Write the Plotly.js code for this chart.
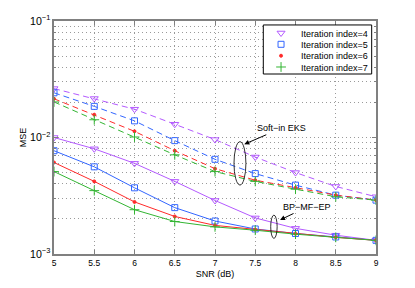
<!DOCTYPE html>
<html>
<head>
<meta charset="utf-8">
<script src="https://cdn.plot.ly/plotly-3.0.1.min.js"></script>
<style>html,body{margin:0;padding:0;background:#fff;}#chart{width:415px;height:288px;}</style>
</head>
<body>
<div id="chart"></div>
<script>
// SNR (dB)
var snr = [5, 5.5, 6, 6.5, 7, 7.5, 8, 8.5, 9];

// Soft-in EKS (dashed)
var eks4 = [0.0263, 0.0216, 0.0175, 0.0130, 0.0096, 0.0068, 0.0050, 0.0038, 0.0031];
var eks5 = [0.0242, 0.0185, 0.0139, 0.0094, 0.0065, 0.0049, 0.0039, 0.0032, 0.0029];
var eks6 = [0.0215, 0.0157, 0.0113, 0.0077, 0.0054, 0.0043, 0.0037, 0.0032, 0.0029];
var eks7 = [0.0202, 0.0142, 0.0101, 0.0071, 0.0051, 0.0042, 0.0036, 0.0031, 0.0029];

// BP-MF-EP (solid)
var bp4 = [0.0100, 0.0080, 0.0060, 0.0042, 0.00288, 0.00204, 0.00166, 0.00145, 0.00131];
var bp5 = [0.0077, 0.0056, 0.0037, 0.0025, 0.00192, 0.00164, 0.00150, 0.00140, 0.00131];
var bp6 = [0.0061, 0.0042, 0.0028, 0.0021, 0.00176, 0.00162, 0.00149, 0.00139, 0.00131];
var bp7 = [0.0051, 0.0035, 0.0024, 0.0019, 0.00171, 0.00160, 0.00148, 0.00139, 0.00131];

var names = ['Iteration index=4', 'Iteration index=5', 'Iteration index=6', 'Iteration index=7'];
var colors = ['#b45aff', '#3366ff', '#ff2a2a', '#33b533'];
var symbols = ['triangle-down-open', 'square-open', 'circle', 'cross-thin-open'];
var sizes = [7, 6, 3, 7];
var eksSeries = [eks4, eks5, eks6, eks7];
var bpSeries = [bp4, bp5, bp6, bp7];
var legendIds = ['legend', 'legend2', 'legend3', 'legend4'];
var legendRowY = [0.9485, 0.900, 0.851, 0.8026];

var traces = [];
for (var i = 0; i < 4; i++) {
  traces.push({x: snr, y: eksSeries[i], mode: 'lines', showlegend: false, hoverinfo: 'skip',
    line: {color: colors[i], width: 1, dash: '6px,4px'}});
  traces.push({x: snr, y: bpSeries[i], mode: 'lines', showlegend: false, hoverinfo: 'skip',
    line: {color: colors[i], width: 1}});
}
for (var j = 0; j < 4; j++) {
  traces.push({x: snr.concat([null], snr), y: eksSeries[j].concat([null], bpSeries[j]),
    mode: 'markers', name: names[j], showlegend: true, legend: legendIds[j],
    marker: {symbol: symbols[j], size: sizes[j], color: colors[j], line: {color: colors[j], width: 1}}});
}

var gridc = '#9a9a9a';
var axc = '#808080';
var layout = {
  width: 415, height: 288,
  margin: {l: 54, r: 39, t: 21, b: 34},
  paper_bgcolor: '#ffffff', plot_bgcolor: '#ffffff',
  font: {family: 'Liberation Sans, Arial, sans-serif', size: 9, color: '#000'},
  showlegend: true,
  xaxis: {range: [5, 9], dtick: 0.5, tick0: 5, showline: true, linecolor: axc, linewidth: 2, mirror: 'ticks',
    ticks: 'inside', ticklen: 4, tickcolor: axc, showgrid: true, gridcolor: gridc, griddash: '1px,3px', gridwidth: 1,
    tickfont: {size: 8.5},
    zeroline: false, title: {text: 'SNR (dB)', font: {size: 9}, standoff: 3}, automargin: false},
  yaxis: {type: 'log', range: [-3, -1], dtick: 1, exponentformat: 'power', showline: true, linecolor: axc, linewidth: 2,
    mirror: 'ticks', ticks: 'inside', ticklen: 4, tickcolor: axc, showgrid: true, gridcolor: gridc, griddash: '1px,3px',
    tickfont: {size: 8.5},
    zeroline: false, title: {text: 'MSE', font: {size: 9}, standoff: 2}, automargin: false,
    minor: {dtick: 'D1', ticks: 'inside', ticklen: 2, tickcolor: axc, showgrid: true, gridcolor: gridc, griddash: '1px,3px'}},
  shapes: [
    {type: 'rect', xref: 'paper', yref: 'paper', x0: 0.650, x1: 0.9866, y0: 0.7725, y1: 0.983,
      fillcolor: '#ffffff', line: {color: '#000', width: 1}, layer: 'above'},
    {type: 'circle', xref: 'paper', yref: 'paper', x0: 0.559, x1: 0.596, y0: 0.296, y1: 0.482,
      line: {color: '#000', width: 0.8}},
    {type: 'circle', xref: 'paper', yref: 'paper', x0: 0.673, x1: 0.693, y0: 0.067, y1: 0.167,
      line: {color: '#000', width: 0.8}}
  ],
  annotations: [
    {xref: 'paper', yref: 'paper', x: 0.591, y: 0.471, text: 'Soft\u2212in EKS', showarrow: true,
      ax: 37, ay: -16, arrowhead: 2, arrowsize: 1, arrowwidth: 1, arrowcolor: '#000', standoff: 0,
      font: {size: 9}},
    {xref: 'paper', yref: 'paper', x: 0.702, y: 0.146, text: 'BP\u2212MF\u2212EP', showarrow: true,
      ax: 27, ay: -13, arrowhead: 2, arrowsize: 1, arrowwidth: 1, arrowcolor: '#000', standoff: 0,
      font: {size: 9}}
  ]
};
for (var k = 0; k < 4; k++) {
  layout[legendIds[k]] = {x: 0.643, y: legendRowY[k], xanchor: 'left', yanchor: 'middle',
    bgcolor: 'rgba(0,0,0,0)', borderwidth: 0, font: {size: 9}, itemwidth: 30};
}

Plotly.newPlot('chart', traces, layout, {displayModeBar: false, staticPlot: true});
</script>
</body>
</html>
